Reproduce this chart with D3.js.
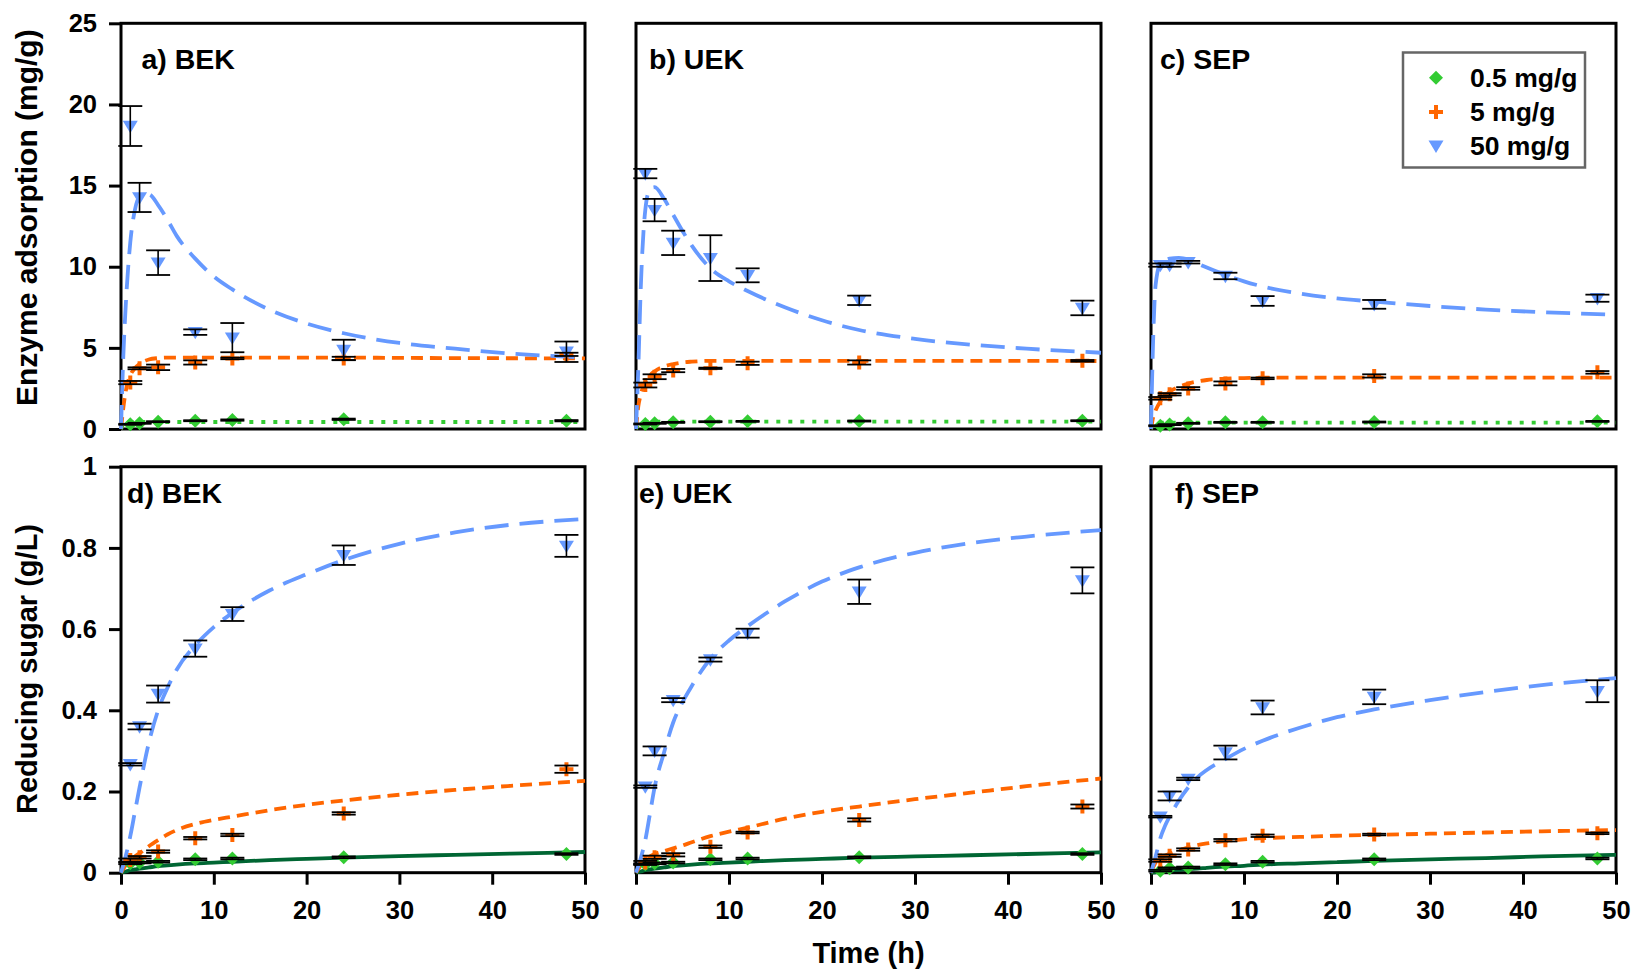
<!DOCTYPE html>
<html>
<head>
<meta charset="utf-8">
<script src="https://cdn.jsdelivr.net/npm/d3@7"></script>
<style>
  html, body { margin: 0; padding: 0; background: #fff; }
  svg { display: block; font-family: "Liberation Sans", Arial, sans-serif; font-weight: bold; }
</style>
</head>
<body>
<svg id="chart" width="1632" height="969"></svg>
<script>
// Sampling times (h) and enzyme loadings
const times = [1, 2, 4, 8, 12, 24, 48];
const loadings = ["0.5 mg/g", "5 mg/g", "50 mg/g"];
const xTicks = [0, 10, 20, 30, 40, 50];
const yTicksAds = [0, 5, 10, 15, 20, 25];
const yTicksSugar = [0, 0.2, 0.4, 0.6, 0.8, 1];

// Model curve time grids
const fitTimeTop = [0, 0.25, 0.5, 1, 1.5, 2, 3, 4, 5, 6, 8, 10, 12, 16, 20, 24, 30, 36, 42, 50];
const fitTimeBottom = [0, 0.5, 1, 1.5, 2, 3, 4, 5, 6, 8, 10, 12, 16, 20, 24, 30, 36, 42, 50];

// Enzyme adsorption (mg/g): rows are 0.5, 5, 50 mg/g loadings
const adsBEK_mean = [
  [0.29, 0.35, 0.45, 0.51, 0.55, 0.6, 0.51],
  [2.86, 3.74, 3.8, 4.1, 4.35, 4.35, 4.6],
  [18.67, 14.27, 10.25, 5.97, 5.63, 4.87, 4.76]
];
const adsBEK_err = [
  [0.03, 0.03, 0.03, 0.03, 0.04, 0.04, 0.04],
  [0.1, 0.06, 0.17, 0.13, 0.05, 0.1, 0.1],
  [1.23, 0.9, 0.76, 0.17, 0.9, 0.63, 0.63]
];
const adsBEK_fit = [
  [0, 0.3, 0.4, 0.43, 0.43, 0.43, 0.43, 0.43, 0.43, 0.43, 0.43, 0.43, 0.43, 0.43, 0.43, 0.43, 0.43, 0.43, 0.43, 0.43],
  [0, 1.3, 2.3, 3.3, 3.75, 4.0, 4.28, 4.37, 4.4, 4.4, 4.4, 4.4, 4.4, 4.4, 4.4, 4.4, 4.38, 4.37, 4.36, 4.35],
  [0, 4.5, 7.5, 11.5, 13.5, 14.3, 14.45, 13.8, 12.9, 11.9, 10.5, 9.4, 8.6, 7.35, 6.5, 5.9, 5.3, 4.95, 4.65, 4.4]
];

const adsUEK_mean = [
  [0.31, 0.35, 0.41, 0.45, 0.47, 0.49, 0.51],
  [2.71, 3.22, 3.6, 3.74, 4.05, 4.1, 4.2],
  [15.74, 13.49, 11.47, 10.53, 9.47, 7.93, 7.46]
];
const adsUEK_err = [
  [0.03, 0.03, 0.03, 0.03, 0.03, 0.03, 0.03],
  [0.15, 0.15, 0.1, 0.04, 0.1, 0.13, 0.05],
  [0.29, 0.69, 0.75, 1.41, 0.43, 0.29, 0.45]
];
const adsUEK_fit = [
  [0, 0.3, 0.4, 0.44, 0.45, 0.45, 0.45, 0.45, 0.45, 0.45, 0.45, 0.45, 0.45, 0.45, 0.45, 0.45, 0.45, 0.45, 0.45, 0.45],
  [0, 1.4, 2.1, 2.9, 3.3, 3.55, 3.85, 4.0, 4.1, 4.15, 4.2, 4.2, 4.2, 4.2, 4.2, 4.2, 4.2, 4.2, 4.2, 4.19],
  [0, 3.8, 8.5, 13.5, 14.8, 14.9, 14.2, 13.2, 12.2, 11.3, 9.9, 9.1, 8.5, 7.5, 6.7, 6.1, 5.55, 5.2, 4.95, 4.7]
];

const adsSEP_mean = [
  [0.2, 0.27, 0.35, 0.41, 0.41, 0.43, 0.47],
  [1.89, 2.14, 2.5, 2.81, 3.12, 3.27, 3.49],
  [10.1, 10.1, 10.28, 9.43, 7.89, 7.68, 8.06]
];
const adsSEP_err = [
  [0.03, 0.03, 0.03, 0.03, 0.03, 0.03, 0.03],
  [0.08, 0.07, 0.08, 0.12, 0.05, 0.1, 0.08],
  [0.1, 0.1, 0.08, 0.2, 0.3, 0.27, 0.22]
];
const adsSEP_fit = [
  [0, 0.3, 0.36, 0.39, 0.39, 0.39, 0.39, 0.39, 0.39, 0.39, 0.39, 0.39, 0.39, 0.39, 0.39, 0.39, 0.39, 0.39, 0.39, 0.39],
  [0, 0.76, 1.15, 1.7, 2.05, 2.3, 2.6, 2.8, 2.93, 3.02, 3.1, 3.14, 3.16, 3.17, 3.17, 3.17, 3.17, 3.17, 3.17, 3.17],
  [0, 5.9, 8.9, 10.2, 10.4, 10.5, 10.55, 10.45, 10.2, 9.95, 9.5, 9.1, 8.78, 8.35, 8.05, 7.85, 7.58, 7.36, 7.2, 7.05]
];

// Reducing sugar (g/L)
const sugBEK_mean = [
  [0.023, 0.025, 0.027, 0.033, 0.035, 0.038, 0.046],
  [0.031, 0.038, 0.052, 0.085, 0.093, 0.146, 0.255],
  [0.267, 0.36, 0.44, 0.552, 0.637, 0.782, 0.805]
];
const sugBEK_err = [
  [0.002, 0.002, 0.002, 0.002, 0.002, 0.002, 0.002],
  [0.004, 0.003, 0.003, 0.003, 0.003, 0.003, 0.009],
  [0.003, 0.007, 0.021, 0.02, 0.017, 0.024, 0.027]
];
const sugBEK_fit = [
  [0, 0.003, 0.006, 0.008, 0.01, 0.013, 0.016, 0.018, 0.02, 0.023, 0.025, 0.027, 0.031, 0.034, 0.037, 0.041, 0.044, 0.047, 0.051],
  [0, 0.018, 0.03, 0.04, 0.048, 0.065, 0.08, 0.094, 0.105, 0.12, 0.13, 0.138, 0.154, 0.167, 0.178, 0.192, 0.204, 0.214, 0.226],
  [0, 0.04, 0.09, 0.15, 0.21, 0.32, 0.40, 0.455, 0.50, 0.56, 0.605, 0.64, 0.695, 0.735, 0.77, 0.81, 0.838, 0.857, 0.871]
];

const sugUEK_mean = [
  [0.021, 0.023, 0.025, 0.033, 0.035, 0.038, 0.046],
  [0.025, 0.038, 0.044, 0.064, 0.099, 0.13, 0.163],
  [0.212, 0.3, 0.425, 0.525, 0.59, 0.692, 0.72]
];
const sugUEK_err = [
  [0.002, 0.002, 0.002, 0.002, 0.002, 0.002, 0.002],
  [0.004, 0.004, 0.004, 0.003, 0.002, 0.004, 0.005],
  [0.003, 0.011, 0.005, 0.005, 0.011, 0.03, 0.032]
];
const sugUEK_fit = [
  [0, 0.003, 0.006, 0.008, 0.01, 0.013, 0.016, 0.018, 0.02, 0.023, 0.025, 0.027, 0.031, 0.034, 0.037, 0.04, 0.043, 0.046, 0.05],
  [0, 0.018, 0.032, 0.04, 0.046, 0.053, 0.06, 0.067, 0.075, 0.09, 0.101, 0.111, 0.133, 0.15, 0.163, 0.181, 0.197, 0.213, 0.232],
  [0, 0.035, 0.08, 0.145, 0.21, 0.295, 0.37, 0.42, 0.46, 0.527, 0.572, 0.607, 0.668, 0.717, 0.752, 0.788, 0.812, 0.828, 0.844]
];

const sugSEP_mean = [
  [0.005, 0.011, 0.013, 0.021, 0.027, 0.033, 0.035],
  [0.03, 0.042, 0.057, 0.08, 0.091, 0.094, 0.097],
  [0.138, 0.189, 0.231, 0.296, 0.407, 0.433, 0.447]
];
const sugSEP_err = [
  [0.002, 0.002, 0.002, 0.002, 0.002, 0.002, 0.002],
  [0.003, 0.003, 0.003, 0.003, 0.003, 0.002, 0.002],
  [0.002, 0.011, 0.003, 0.017, 0.017, 0.018, 0.027]
];
const sugSEP_fit = [
  [0, 0.001, 0.003, 0.004, 0.005, 0.007, 0.009, 0.01, 0.012, 0.015, 0.017, 0.02, 0.023, 0.026, 0.029, 0.033, 0.036, 0.04, 0.044],
  [0, 0.025, 0.035, 0.042, 0.047, 0.055, 0.062, 0.068, 0.072, 0.078, 0.082, 0.085, 0.088, 0.091, 0.093, 0.096, 0.099, 0.102, 0.105],
  [0, 0.04, 0.085, 0.115, 0.138, 0.178, 0.21, 0.235, 0.253, 0.28, 0.305, 0.325, 0.357, 0.383, 0.402, 0.425, 0.445, 0.462, 0.479]
];

// Layout
const colX = [[121, 585], [636, 1101], [1151, 1616]];
const rowY = [[23.3, 429], [466.7, 872.7]];

const colors = { green: "#33cc33", darkGreen: "#006633", orange: "#ff6600", blue: "#6699ff" };
const markerColor = [colors.green, colors.orange, colors.blue];

const panels = [
  { label: "a) BEK", row: 0, col: 0, labelDx: 20.5, mean: adsBEK_mean, err: adsBEK_err, fit: adsBEK_fit, fitT: fitTimeTop },
  { label: "b) UEK", row: 0, col: 1, labelDx: 13, mean: adsUEK_mean, err: adsUEK_err, fit: adsUEK_fit, fitT: fitTimeTop },
  { label: "c) SEP", row: 0, col: 2, labelDx: 9, mean: adsSEP_mean, err: adsSEP_err, fit: adsSEP_fit, fitT: fitTimeTop },
  { label: "d) BEK", row: 1, col: 0, labelDx: 6, mean: sugBEK_mean, err: sugBEK_err, fit: sugBEK_fit, fitT: fitTimeBottom },
  { label: "e) UEK", row: 1, col: 1, labelDx: 3, mean: sugUEK_mean, err: sugUEK_err, fit: sugUEK_fit, fitT: fitTimeBottom },
  { label: "f) SEP", row: 1, col: 2, labelDx: 24, mean: sugSEP_mean, err: sugSEP_err, fit: sugSEP_fit, fitT: fitTimeBottom }
];

const svg = d3.select("#chart");
const FONT = "'Liberation Sans', Arial, sans-serif";

// Marker shapes
const S = 7;
const diamondPath = `M0,${-S}L${S},0L0,${S}L${-S},0Z`;
const armW = 2;
const plusPath = `M${-armW},${-S}H${armW}V${-armW}H${S}V${armW}H${armW}V${S}H${-armW}V${armW}H${-S}V${-armW}H${-armW}Z`;
const triPath = `M-7.5,-5.2L7.5,-5.2L0,7.2Z`;
const markerPath = [diamondPath, plusPath, triPath];

function lineStyle(seriesIdx, row) {
  if (seriesIdx === 0) {
    return row === 0
      ? { stroke: colors.green, width: 3.8, dash: "4,8" }
      : { stroke: colors.darkGreen, width: 3.8, dash: null };
  }
  if (seriesIdx === 1) return { stroke: colors.orange, width: 3.8, dash: "12,7" };
  return { stroke: colors.blue, width: 3.8, dash: "24,11" };
}

panels.forEach(p => {
  const [x0, x1] = colX[p.col];
  const [y0, y1] = rowY[p.row];
  const x = d3.scaleLinear().domain([0, 50]).range([x0, x1]);
  const y = d3.scaleLinear().domain(p.row === 0 ? [0, 25] : [0, 1]).range([y1, y0]);
  const g = svg.append("g");

  // frame
  g.append("rect")
    .attr("x", x0).attr("y", y0)
    .attr("width", x1 - x0).attr("height", y1 - y0)
    .attr("fill", "none").attr("stroke", "#000").attr("stroke-width", 3);

  // y axis on left column
  if (p.col === 0) {
    const ya = d3.axisLeft(y)
      .tickValues(p.row === 0 ? yTicksAds : yTicksSugar)
      .tickFormat(d3.format("~g"))
      .tickSize(12).tickSizeOuter(0).tickPadding(12);
    const ag = g.append("g").attr("transform", `translate(${x0},0)`).call(ya);
    ag.select(".domain").remove();
    ag.selectAll("line").attr("stroke", "#000").attr("stroke-width", 3);
    ag.selectAll("text").attr("font-size", 25.5).attr("font-weight", "bold")
      .attr("font-family", FONT).attr("fill", "#000");
  }
  // x axis on bottom row
  if (p.row === 1) {
    const xa = d3.axisBottom(x).tickValues(xTicks).tickSize(12).tickSizeOuter(0).tickPadding(16);
    const ag = g.append("g").attr("transform", `translate(0,${y1})`).call(xa);
    ag.select(".domain").remove();
    ag.selectAll("line").attr("stroke", "#000").attr("stroke-width", 3);
    ag.selectAll("text").attr("font-size", 25.5).attr("font-weight", "bold")
      .attr("font-family", FONT).attr("fill", "#000");
  }

  // panel label
  g.append("text")
    .attr("x", x0 + p.labelDx).attr("y", y0 + (p.row === 0 ? 45.5 : 36.3))
    .attr("font-size", 28.5).attr("fill", "#000").text(p.label);

  // model curves
  const line = d3.line().x(d => x(d[0])).y(d => y(d[1])).curve(d3.curveMonotoneX);
  [0, 1, 2].forEach(si => {
    const st = lineStyle(si, p.row);
    const pts = p.fitT.map((t, i) => [t, p.fit[si][i]]);
    g.append("path").datum(pts)
      .attr("d", line)
      .attr("fill", "none")
      .attr("stroke", st.stroke)
      .attr("stroke-width", st.width)
      .attr("stroke-dasharray", st.dash);
  });

  // markers
  [0, 1, 2].forEach(si => {
    g.append("g").selectAll("path")
      .data(times.map((t, i) => [t, p.mean[si][i]]))
      .join("path")
      .attr("transform", d => `translate(${x(d[0])},${y(d[1])})`)
      .attr("d", markerPath[si])
      .attr("fill", markerColor[si]);
  });

  // error bars
  const capHalf = 12;
  [0, 1, 2].forEach(si => {
    const eb = g.append("g").attr("stroke", "#000");
    times.forEach((t, i) => {
      const m = p.mean[si][i], e = p.err[si][i];
      const cx = x(t), yt = y(m + e), yb = y(m - e);
      eb.append("line").attr("x1", cx).attr("x2", cx).attr("y1", yt).attr("y2", yb).attr("stroke-width", 1.6);
      eb.append("line").attr("x1", cx - capHalf).attr("x2", cx + capHalf).attr("y1", yt).attr("y2", yt).attr("stroke-width", 1.8);
      eb.append("line").attr("x1", cx - capHalf).attr("x2", cx + capHalf).attr("y1", yb).attr("y2", yb).attr("stroke-width", 1.8);
    });
  });
});

// axis titles
svg.append("text")
  .attr("transform", "translate(37,406) rotate(-90)")
  .attr("text-anchor", "start").attr("font-size", 30).attr("fill", "#000")
  .text("Enzyme adsorption (mg/g)");
svg.append("text")
  .attr("transform", "translate(37,814) rotate(-90)")
  .attr("text-anchor", "start").attr("font-size", 29).attr("fill", "#000")
  .text("Reducing sugar (g/L)");
svg.append("text")
  .attr("x", (colX[1][0] + colX[1][1]) / 2).attr("y", 963)
  .attr("text-anchor", "middle").attr("font-size", 29).attr("fill", "#000")
  .text("Time (h)");

// legend in panel c
const lg = svg.append("g");
lg.append("rect")
  .attr("x", 1403).attr("y", 52.5).attr("width", 182).attr("height", 115)
  .attr("fill", "#fff").attr("stroke", "#666").attr("stroke-width", 2.5);
const legendRowY = [77.7, 112, 145.7];
loadings.forEach((name, i) => {
  lg.append("path")
    .attr("transform", `translate(1436,${legendRowY[i]})`)
    .attr("d", markerPath[i])
    .attr("fill", markerColor[i]);
  lg.append("text")
    .attr("x", 1470).attr("y", legendRowY[i]).attr("dy", "0.35em")
    .attr("font-size", 26.5).attr("fill", "#000").text(name);
});
</script>
</body>
</html>
